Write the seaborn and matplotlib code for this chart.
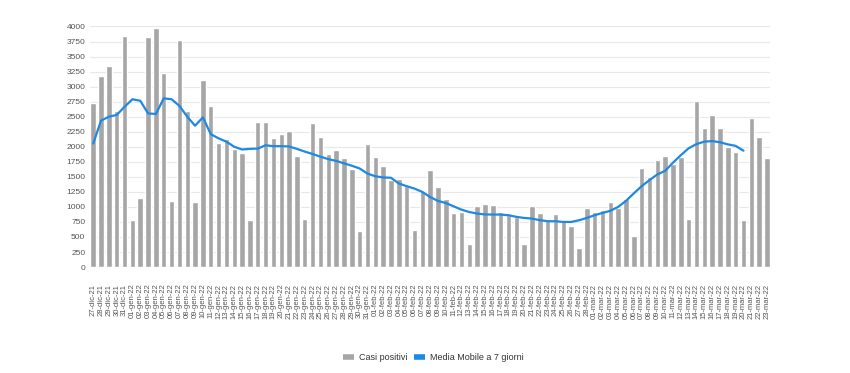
import numpy as np
import pandas as pd
import matplotlib
matplotlib.use("Agg")
import matplotlib.pyplot as plt
from matplotlib.lines import Line2D
import seaborn as sns

# months shown on the x axis: (abbrev, year, first day, last day)
MONTHS = [("dic", "21", 27, 31), ("gen", "22", 1, 31),
          ("feb", "22", 1, 28), ("mar", "22", 1, 23)]
giorni = [f"{d:02d}-{m}-{y}" for m, y, a, b in MONTHS for d in range(a, b + 1)]

casi_positivi = [
    2730, 3180, 3340, 2600, 3850, 790, 1150, 3820, 3970, 3220,
    1095, 3780, 2595, 1080, 3105, 2685, 2070, 2135, 1965, 1895,
    785, 2420, 2410, 2145, 2215, 2265, 1845, 795, 2400, 2165,
    1880, 1945, 1810, 1630, 600, 2045, 1835, 1680, 1445, 1460,
    1345, 610, 1265, 1620, 1325, 1125, 900, 915, 380, 1010,
    1045, 1035, 915, 860, 835, 380, 1010, 900, 790, 890,
    780, 685, 320, 975, 915, 945, 1075, 990, 1130, 515,
    1650, 1505, 1780, 1845, 1710, 1825, 805, 2760, 2305, 2535,
    2305, 2000, 1915, 780, 2475, 2155, 1815,
]

# 7-day moving average, stops at 20-mar-22
media_mobile = [
    2055, 2435, 2500, 2530, 2665, 2790, 2765, 2555, 2545, 2805,
    2790, 2680, 2500, 2350, 2490, 2210, 2140, 2085, 2000, 1955,
    1965, 1970, 2025, 2010, 2010, 2005, 1965, 1920, 1880, 1835,
    1795, 1765, 1725, 1685, 1640, 1555, 1510, 1490, 1485, 1390,
    1345, 1305, 1250, 1165, 1100, 1065, 1010, 955, 915, 890,
    875, 873, 873, 862, 835, 817, 806, 780, 762, 762,
    750, 750, 778, 817, 862, 900, 935, 1000, 1100, 1225,
    1345, 1445, 1540, 1600, 1735, 1860, 1975, 2045, 2085, 2095,
    2075, 2040, 2015, 1935,
]

Y_TICKS = list(range(0, 4001, 250))

BAR_COLOR = "#a6a6a6"
LINE_COLOR = "#1e88e5"
TEXT_COLOR = "#555555"

sns.set_style("white")
plt.rcParams["font.family"] = ["Liberation Sans", "DejaVu Sans"]

df_bar = pd.DataFrame({"giorno": giorni, "casi": casi_positivi})
df_line = pd.DataFrame({"pos": np.arange(len(media_mobile)), "media": media_mobile})

fig = plt.figure(figsize=(8.5, 3.73), dpi=100)
ax = fig.add_axes([0.106, 0.284, 0.800, 0.645])

sns.barplot(data=df_bar, x="giorno", y="casi", color=BAR_COLOR,
            saturation=1, width=0.7, ax=ax, zorder=2)
sns.lineplot(data=df_line, x="pos", y="media", color=LINE_COLOR,
             linewidth=1.6, ax=ax, zorder=3)

ax.set_xlim(-0.4, len(giorni) - 0.6)
ax.set_ylim(0, 4000)
ax.set_yticks(Y_TICKS)
ax.set_xticks(range(len(giorni)))
ax.set_xticklabels(giorni, rotation=90, fontsize=5.5, color=TEXT_COLOR,
                   va="top", ha="center")
ax.tick_params(axis="y", labelsize=6, colors=TEXT_COLOR, length=0, pad=3.5)
ax.tick_params(axis="x", length=0, pad=12)
ax.grid(axis="y", color="#e8e8e8", linewidth=0.8, zorder=0)
ax.set_axisbelow(True)
ax.set_xlabel("")
ax.set_ylabel("")
sns.despine(ax=ax, left=True, bottom=True)

handles = [
    Line2D([], [], color=BAR_COLOR, linewidth=4, solid_capstyle="butt"),
    Line2D([], [], color=LINE_COLOR, linewidth=4, solid_capstyle="butt"),
]
fig.legend(handles, ["Casi positivi", "Media Mobile a 7 giorni"],
           loc="center", bbox_to_anchor=(0.51, 0.041), ncol=2, frameon=False,
           fontsize=6.5, handlelength=1.2, handletextpad=0.5, columnspacing=0.8,
           labelcolor="#333333")

fig.savefig("out.png", dpi=100)
